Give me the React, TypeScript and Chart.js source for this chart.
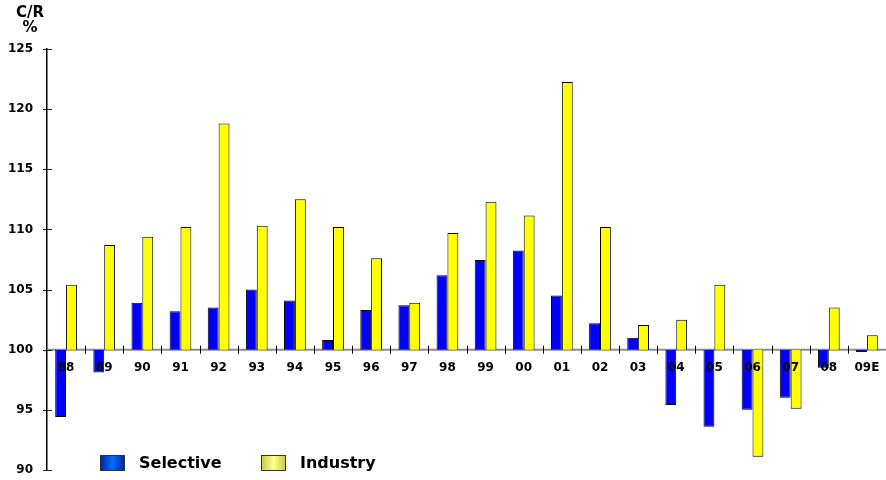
import React, { useEffect, useRef } from "react";
import { Chart, registerables } from "chart.js";

Chart.register(...registerables);

const categories = ["88", "89", "90", "91", "92", "93", "94", "95", "96", "97", "98", "99", "00", "01", "02", "03", "04", "05", "06", "07", "08", "09E"];
const selective = [94.4, 98.1, 103.9, 103.2, 103.5, 105.0, 104.1, 100.8, 103.3, 103.7, 106.2, 107.45, 108.25, 104.5, 102.2, 101.0, 95.4, 93.6, 95.0, 96.0, 98.5, 99.8];
const industry = [105.4, 108.7, 109.4, 110.2, 118.8, 110.3, 112.5, 110.2, 107.6, 103.9, 109.7, 112.3, 111.15, 122.25, 110.2, 102.05, 102.5, 105.4, 91.1, 95.1, 103.5, 101.2];
const yTickValues = [90, 95, 100, 105, 110, 115, 120, 125];
const baseline = 100;
const seriesNames = ["Selective", "Industry"];
const seriesColors = ["#0000ff", "#ffff00"];

const FONT = '"DejaVu Sans", Verdana, sans-serif';

const decorPlugin = {
  id: "decor",
  beforeDatasetsDraw(chart: any) {
    const ctx = chart.ctx;
    const x = chart.scales.x;
    const y = chart.scales.y;
    const yb = y.getPixelForValue(baseline);
    ctx.save();
    ctx.strokeStyle = "#8c8c8c";
    ctx.lineWidth = 2;
    ctx.beginPath();
    ctx.moveTo(x.left, yb);
    ctx.lineTo(x.right, yb);
    ctx.stroke();
    ctx.restore();
  },
  afterDatasetsDraw(chart: any) {
    const ctx = chart.ctx;
    const x = chart.scales.x;
    const y = chart.scales.y;
    const yb = y.getPixelForValue(baseline);
    const n = categories.length;
    ctx.save();
    ctx.strokeStyle = "#000";
    ctx.lineWidth = 1;
    const half = (x.getPixelForValue(1) - x.getPixelForValue(0)) / 2;
    for (let i = 1; i <= n; i++) {
      const px = Math.round(x.getPixelForValue(i - 1) + half) + 0.5;
      ctx.beginPath();
      ctx.moveTo(px, yb - 4);
      ctx.lineTo(px, yb + 4);
      ctx.stroke();
    }
    ctx.strokeStyle = "#222";
    for (const v of yTickValues) {
      const py = Math.round(y.getPixelForValue(v)) + 0.5;
      ctx.beginPath();
      ctx.moveTo(x.left - 4, py);
      ctx.lineTo(x.left + 5, py);
      ctx.stroke();
    }
    ctx.fillStyle = "#000";
    ctx.font = `bold 12px ${FONT}`;
    ctx.textAlign = "center";
    ctx.textBaseline = "middle";
    categories.forEach((c, i) => {
      ctx.fillText(c, x.getPixelForValue(i), yb + 18);
    });
    ctx.font = `bold 15px ${FONT}`;
    ctx.fillText("C/R", 30, 13);
    ctx.fillText("%", 30, 28);
    const boxes = [100, 261];
    const texts = [139, 300];
    const boxTop = 455;
    const boxW = 25;
    const boxH = 16;
    for (let k = 0; k < 2; k++) {
      const bx = boxes[k];
      const g = ctx.createLinearGradient(bx, 0, bx + boxW, 0);
      if (k === 0) {
        g.addColorStop(0, "#0020a0");
        g.addColorStop(0.5, "#0070ff");
        g.addColorStop(1, "#0020a0");
      } else {
        g.addColorStop(0, "#c8c840");
        g.addColorStop(0.5, "#ffff90");
        g.addColorStop(1, "#c8c840");
      }
      ctx.fillStyle = g;
      ctx.fillRect(bx, boxTop, boxW, boxH);
      ctx.strokeStyle = "#333";
      ctx.lineWidth = 1;
      ctx.strokeRect(bx + 0.5, boxTop + 0.5, boxW - 1, boxH - 1);
      ctx.fillStyle = "#000";
      ctx.font = `bold 16px ${FONT}`;
      ctx.textAlign = "left";
      ctx.textBaseline = "middle";
      ctx.fillText(seriesNames[k], texts[k], boxTop + boxH / 2 + 1);
    }
    ctx.restore();
  },
};

export default function App() {
  const ref = useRef<HTMLCanvasElement | null>(null);
  useEffect(() => {
    if (!ref.current) return;
    const chart = new Chart(ref.current, {
      type: "bar",
      data: {
        labels: categories,
        datasets: [
          {
            label: seriesNames[0],
            data: selective,
            base: baseline,
            backgroundColor: seriesColors[0],
            borderColor: "#000",
            borderWidth: 1,
          } as any,
          {
            label: seriesNames[1],
            data: industry,
            base: baseline,
            backgroundColor: seriesColors[1],
            borderColor: "#000",
            borderWidth: 1,
          } as any,
        ],
      },
      options: {
        animation: false,
        responsive: false,
        maintainAspectRatio: false,
        layout: { padding: { top: 49, bottom: 10, left: 0, right: 0 } },
        datasets: { bar: { categoryPercentage: 0.57, barPercentage: 1.0 } },
        plugins: { legend: { display: false }, tooltip: { enabled: false }, title: { display: false } },
        scales: {
          x: { display: false, offset: true },
          y: {
            min: 90,
            max: 125,
            afterFit: (s: any) => {
              s.width = 47;
            },
            ticks: {
              stepSize: 5,
              padding: 0,
              color: "#000",
              font: { family: FONT, weight: "bold", size: 12 },
            },
            grid: { display: false, drawTicks: true, tickLength: 14 },
            border: { display: true, color: "#000", width: 1.5 },
          },
        },
      },
      plugins: [decorPlugin],
    });
    return () => chart.destroy();
  }, []);
  return (
    <div style={{ position: "fixed", left: 0, top: 0, width: 886, height: 480, background: "#fff" }}>
      <canvas ref={ref} width={886} height={480} style={{ display: "block", width: 886, height: 480 }} />
    </div>
  );
}
